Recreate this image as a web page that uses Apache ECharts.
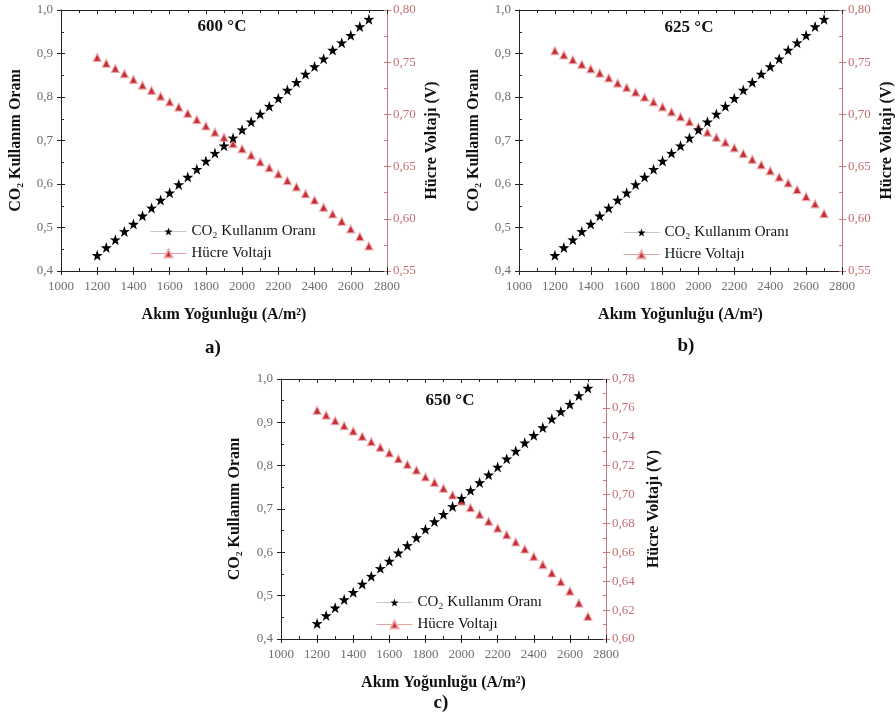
<!DOCTYPE html>
<html>
<head>
<meta charset="utf-8">
<script src="https://cdn.jsdelivr.net/npm/echarts@6/dist/echarts.min.js"></script>
<style>
html,body{margin:0;padding:0;background:#fff;}
#chart{width:896px;height:724px;}
</style>
</head>
<body>
<div id="chart"></div>
<script>
// ---- data ----
const currentDensity = [1200,1250,1300,1350,1400,1450,1500,1550,1600,1650,1700,1750,1800,1850,1900,1950,2000,2050,2100,2150,2200,2250,2300,2350,2400,2450,2500,2550,2600,2650,2700];
const co2Utilization = [0.436,0.454,0.472,0.491,0.508,0.527,0.545,0.563,0.580,0.599,0.616,0.634,0.653,0.671,0.688,0.706,0.725,0.743,0.761,0.779,0.797,0.816,0.834,0.853,0.870,0.888,0.908,0.925,0.942,0.962,0.979];
const voltage600 = [0.7546,0.749,0.744,0.739,0.7335,0.728,0.723,0.7175,0.712,0.707,0.701,0.695,0.689,0.683,0.678,0.672,0.667,0.661,0.6545,0.649,0.643,0.6366,0.6306,0.624,0.618,0.611,0.6047,0.5976,0.5903,0.583,0.574];
const voltage625 = [0.761,0.757,0.7524,0.748,0.7437,0.7396,0.735,0.730,0.7258,0.7214,0.7166,0.712,0.7073,0.7025,0.6977,0.693,0.688,0.683,0.678,0.6734,0.668,0.6625,0.657,0.6517,0.646,0.640,0.6344,0.628,0.6213,0.6143,0.605];
const voltage650 = [0.7583,0.755,0.7511,0.7477,0.744,0.7403,0.7366,0.7327,0.7288,0.7248,0.7209,0.717,0.7122,0.7085,0.7043,0.6997,0.6955,0.6909,0.6863,0.6815,0.6768,0.6722,0.6672,0.6623,0.6572,0.6515,0.6457,0.6397,0.6332,0.6249,0.6157];
const panelTitles = ['600 °C', '625 °C', '650 °C'];
const panelLetters = ['a)', 'b)', 'c)'];
const seriesNames = ['CO₂ Kullanım Oranı', 'Hücre Voltajı'];
const xAxisName = 'Akım Yoğunluğu (A/m²)';
const leftAxisName = 'CO₂ Kullanım Oranı';
const rightAxisName = 'Hücre Voltajı (V)';
const xRange = [1000, 2800, 200];
const leftRange = [0.4, 1.0, 0.1];
const rightRanges = [[0.55, 0.80, 0.05], [0.55, 0.80, 0.05], [0.60, 0.78, 0.02]];
const voltages = [voltage600, voltage625, voltage650];

// ---- layout / style ----
const SERIF = '"Liberation Serif","DejaVu Serif",serif';
const RED = '#c47a7d';
const RED_LABEL = '#c46e73';
const GRAY = '#6e6e6e';
const STAR = 'path://M50,0 L61.8,35.1 L97.6,34.5 L68.8,56.7 L79.4,90.5 L50,70 L20.6,90.5 L31.2,56.7 L2.4,34.5 L38.2,35.1 Z';

const panels = [
  {grid:{left:61, top:10, width:326, height:261}, xGap:36, lGap:37, rGap:37,
   title:[222,27], letter:[213,348], legend:{left:150, top:224}},
  {grid:{left:519, top:10, width:325, height:261}, xGap:36, lGap:37, rGap:37,
   title:[689,28], letter:[686,346], legend:{left:623, top:225}},
  {grid:{left:281, top:379, width:325, height:260}, xGap:36, lGap:38, rGap:40,
   title:[450,401], letter:[441,703], legend:{left:376, top:595}}
];

const grids = [], xAxes = [], yAxes = [], series = [], legends = [], graphics = [];

function fmt(d){ return v => v.toFixed(d).replace('.', ','); }

panels.forEach((p, g) => {
  grids.push(Object.assign({containLabel:false}, p.grid));
  const rr = rightRanges[g];
  xAxes.push({
    gridIndex:g, type:'value', min:xRange[0], max:xRange[1], interval:xRange[2], position:'bottom',
    axisLine:{show:true, lineStyle:{color:'#222', width:1}},
    axisTick:{show:true, length:4, lineStyle:{color:'#222'}},
    axisLabel:{color:GRAY, fontFamily:SERIF, fontSize:13, margin:9, formatter:v => String(v)},
    splitLine:{show:false},
    name:xAxisName, nameLocation:'middle', nameGap:p.xGap,
    nameTextStyle:{color:'#111', fontFamily:SERIF, fontSize:16, fontWeight:'bold'}
  });
  xAxes.push({
    gridIndex:g, type:'value', min:xRange[0], max:xRange[1], interval:xRange[2], position:'bottom',
    axisLine:{show:false}, axisLabel:{show:false}, splitLine:{show:false},
    axisTick:{show:true, inside:true, length:4, lineStyle:{color:'#222'}},
    minorTick:{show:true, splitNumber:2, length:3, lineStyle:{color:'#222'}}
  });
  xAxes.push({
    gridIndex:g, type:'value', min:xRange[0], max:xRange[1], interval:xRange[2], position:'top',
    axisLine:{show:true, lineStyle:{color:'#222'}}, axisLabel:{show:false}, splitLine:{show:false},
    axisTick:{show:true, inside:true, length:4, lineStyle:{color:'#222'}},
    minorTick:{show:true, splitNumber:2, length:3, lineStyle:{color:'#222'}}
  });
  yAxes.push({
    gridIndex:g, type:'value', min:leftRange[0], max:leftRange[1], interval:leftRange[2], position:'left',
    axisLine:{show:true, lineStyle:{color:'#222'}},
    axisTick:{show:true, length:4, lineStyle:{color:'#222'}},
    axisLabel:{color:GRAY, fontFamily:SERIF, fontSize:13, margin:8, formatter:fmt(1)},
    splitLine:{show:false},
    name:leftAxisName, nameLocation:'middle', nameGap:p.lGap, nameRotate:90,
    nameTextStyle:{color:'#111', fontFamily:SERIF, fontSize:16, fontWeight:'bold'}
  });
  yAxes.push({
    gridIndex:g, type:'value', min:leftRange[0], max:leftRange[1], interval:leftRange[2], position:'left',
    axisLine:{show:false}, axisLabel:{show:false}, splitLine:{show:false},
    axisTick:{show:true, inside:true, length:4, lineStyle:{color:'#222'}},
    minorTick:{show:true, splitNumber:2, length:3, lineStyle:{color:'#222'}}
  });
  yAxes.push({
    gridIndex:g, type:'value', min:rr[0], max:rr[1], interval:rr[2], position:'right',
    axisLine:{show:true, lineStyle:{color:RED}},
    axisTick:{show:true, length:4, lineStyle:{color:RED}},
    axisLabel:{color:RED_LABEL, fontFamily:SERIF, fontSize:13, margin:6, formatter:fmt(2)},
    splitLine:{show:false},
    name:rightAxisName, nameLocation:'middle', nameGap:p.rGap, nameRotate:90,
    nameTextStyle:{color:'#111', fontFamily:SERIF, fontSize:16, fontWeight:'bold'}
  });
  yAxes.push({
    gridIndex:g, type:'value', min:rr[0], max:rr[1], interval:rr[2], position:'right',
    axisLine:{show:false}, axisLabel:{show:false}, splitLine:{show:false},
    axisTick:{show:true, inside:true, length:3, lineStyle:{color:RED}},
    minorTick:{show:true, splitNumber:2, length:3, lineStyle:{color:RED}}
  });

  series.push({
    name:seriesNames[1], type:'line', xAxisIndex:3*g, yAxisIndex:4*g+2,
    data:currentDensity.map((x,i)=>[x, voltages[g][i]]),
    symbol:'triangle', symbolSize:8,
    itemStyle:{color:'#c42f3a', borderColor:'rgba(238,170,170,0.85)', borderWidth:1.2},
    lineStyle:{opacity:0}, z:2, animation:false
  });
  series.push({
    name:seriesNames[0], type:'line', xAxisIndex:3*g, yAxisIndex:4*g,
    data:currentDensity.map((x,i)=>[x, co2Utilization[i]]),
    symbol:STAR, symbolSize:11,
    itemStyle:{color:'#000', borderWidth:0},
    lineStyle:{opacity:0}, z:3, animation:false
  });

  legends.push({
    left:p.legend.left, top:p.legend.top, orient:'vertical', padding:0,
    itemWidth:36, itemHeight:10, itemGap:7, selectedMode:false,
    textStyle:{color:'#111', fontFamily:SERIF, fontSize:15},
    data:[
      {name:seriesNames[0], lineStyle:{color:'#c8c8c8', opacity:1, width:1}},
      {name:seriesNames[1], lineStyle:{color:'#e8a3a3', opacity:1, width:1}}
    ]
  });

  graphics.push({
    type:'text', x:p.title[0], y:p.title[1], z:10,
    style:{text:panelTitles[g], fill:'#111', font:'bold 17px ' + SERIF, textAlign:'center', textVerticalAlign:'middle'}
  });
  graphics.push({
    type:'text', x:p.letter[0], y:p.letter[1], z:10,
    style:{text:panelLetters[g], fill:'#111', font:'bold 19px ' + SERIF, textAlign:'center', textVerticalAlign:'middle'}
  });
});

const chart = echarts.init(document.getElementById('chart'), null, {renderer:'canvas'});
chart.setOption({
  backgroundColor:'#fff',
  animation:false,
  grid:grids,
  xAxis:xAxes,
  yAxis:yAxes,
  legend:legends,
  series:series,
  graphic:graphics
});
</script>
</body>
</html>
